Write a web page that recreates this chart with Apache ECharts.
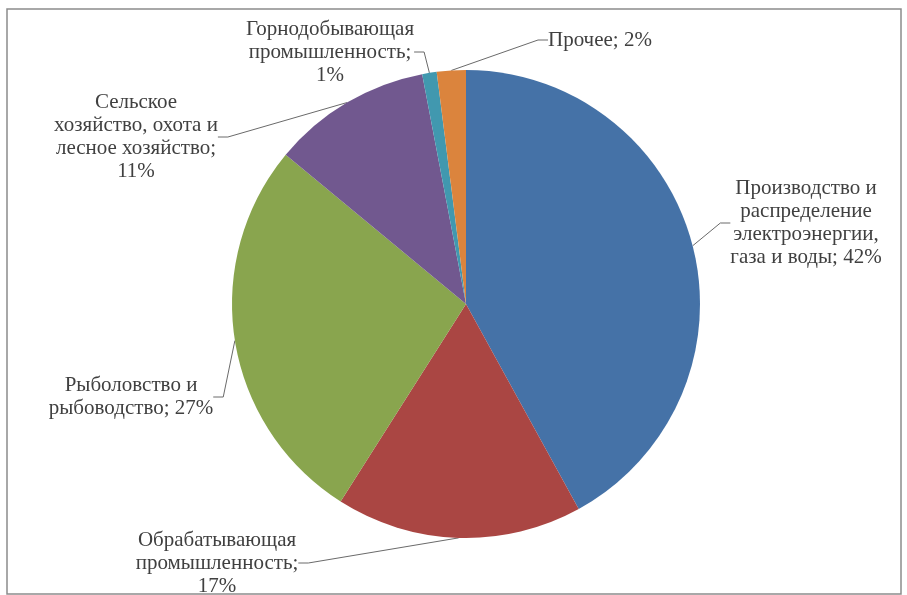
<!DOCTYPE html>
<html>
<head>
<meta charset="utf-8">
<script src="https://cdn.jsdelivr.net/npm/echarts@6/dist/echarts.min.js"></script>
<style>
html,body{margin:0;padding:0;background:#fff;}
#chart{width:907px;height:595px;}
</style>
</head>
<body>
<div id="chart"></div>
<script>
const categories = [
  'Производство и распределение электроэнергии, газа и воды',
  'Обрабатывающая промышленность',
  'Рыболовство и рыбоводство',
  'Сельское хозяйство, охота и лесное хозяйство',
  'Горнодобывающая промышленность',
  'Прочее'
];
const values = [42, 17, 27, 11, 1, 2];
const labelTexts = [
  'Производство и\nраспределение\nэлектроэнергии,\nгаза и воды; 42%',
  'Обрабатывающая\nпромышленность;\n17%',
  'Рыболовство и\nрыбоводство; 27%',
  'Сельское\nхозяйство, охота и\nлесное хозяйство;\n11%',
  'Горнодобывающая\nпромышленность;\n1%',
  'Прочее; 2%'
];
const colors = ['#4572A7', '#AA4643', '#89A54E', '#71588F', '#4198AF', '#DB843D'];

const labelPos = [
  [806, 223, 'center'],
  [217, 563, 'center'],
  [131, 397, 'center'],
  [136, 137, 'center'],
  [330, 52, 'center'],
  [548, 40, 'left']
];

const chart = echarts.init(document.getElementById('chart'));
chart.setOption({
  animation: false,
  backgroundColor: '#fff',
  graphic: [{
    type: 'rect',
    shape: {x: 7, y: 9, width: 894, height: 585},
    style: {fill: 'none', stroke: '#8c8c8c', lineWidth: 1.5},
    silent: true
  }],
  series: [{
    type: 'pie',
    center: [466, 304],
    radius: 234,
    startAngle: 90,
    clockwise: true,
    color: colors,
    data: categories.map((c, i) => ({name: c, value: values[i]})),
    label: {
      show: true,
      formatter: p => labelTexts[p.dataIndex],
      fontFamily: '"Liberation Serif", "Times New Roman", serif',
      fontSize: 21,
      lineHeight: 23,
      color: '#404040',
      align: 'center'
    },
    labelLine: {
      show: true,
      length: 10,
      length2: 10,
      lineStyle: {color: '#6a6a6a', width: 1}
    },
    labelLayout: function (params) {
      const p = labelPos[params.dataIndex];
      return {x: p[0], y: p[1], align: p[2], verticalAlign: 'middle'};
    },
    itemStyle: {borderWidth: 0}
  }]
});
</script>
</body>
</html>
